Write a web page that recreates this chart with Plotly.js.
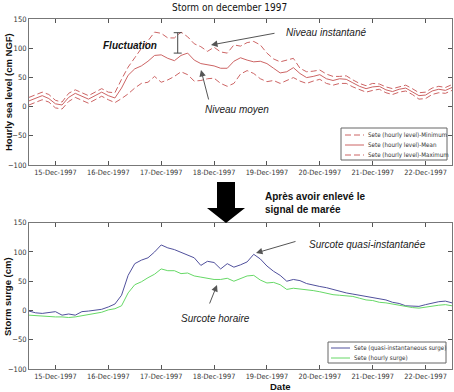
<!DOCTYPE html>
<html><head><meta charset="utf-8">
<script src="https://cdn.plot.ly/plotly-3.0.1.min.js"></script>
<style>html,body{margin:0;padding:0;background:#fff;}#chart{width:454px;height:392px;}</style>
</head><body><div id="chart"></div>
<script>
// ---- data (3-hourly samples from 14-Dec-1997 12:00) ----
const startTime = '1997-12-14T12:00:00Z';
const stepHours = 3;
const levelMin = [3, 8, 12, 8,
  -2, -4, 9, 16, 11, 6, 12, 18,
  12, 7, 14, 22, 32, 40, 42, 52,
  42, 46, 52, 60, 55, 44, 45, 48,
  49, 40, 35, 40, 56, 62, 57, 48,
  43, 45, 40, 45, 50, 44, 40, 44,
  47, 40, 37, 40, 40, 34, 29, 25,
  28, 30, 24, 21, 25, 27, 21, 13,
  14, 21, 24, 23, 28];
const levelMean = [10, 15, 19, 14,
  5, 3, 16, 23, 18, 13, 19, 25,
  19, 15, 32, 54, 65, 70, 78, 88,
  89, 83, 79, 88, 92, 80, 74, 72,
  70, 66, 66, 78, 84, 80, 77, 78,
  74, 66, 58, 60, 67, 57, 50, 52,
  55, 48, 45, 48, 47, 41, 35, 31,
  34, 35, 29, 26, 30, 32, 26, 19,
  20, 27, 30, 28, 33];
const levelMax = [16, 21, 25, 21,
  11, 8, 23, 29, 24, 19, 25, 31,
  25, 24, 47, 68, 84, 100, 113, 128,
  126, 118, 118, 128, 120, 108, 103, 95,
  102, 94, 92, 106, 104, 110, 112, 106,
  92, 82, 77, 80, 83, 66, 60, 61,
  63, 56, 52, 52, 53, 46, 40, 36,
  40, 39, 34, 31, 34, 37, 31, 24,
  25, 32, 35, 33, 38];
const surgeInst = [-1, -4, -5, -3,
  -2, -8, -6, -8, -2, -1, 1, 2,
  6, 11, 26, 60, 80, 86, 90, 100,
  112, 107, 104, 99, 95, 90, 77, 84,
  82, 71, 80, 74, 78, 83, 96, 88,
  76, 67, 60, 50, 53, 51, 46, 43,
  41, 39, 36, 32, 30, 28, 26, 24,
  23, 21, 18, 14, 12, 8, 8, 7,
  10, 13, 15, 16, 13];
const surgeHourly = [-8, -9, -10, -10,
  -11, -11, -12, -11, -9, -7, -5, -3,
  1, 3, 8, 30, 44, 49, 56, 62,
  71, 68, 68, 63, 64, 59, 57, 55,
  53, 53, 55, 50, 55, 59, 60, 52,
  47, 48, 44, 36, 38, 37, 35, 34,
  32, 29, 27, 26, 25, 24, 21, 18,
  17, 14, 13, 11, 9, 6, 5, 4,
  6, 8, 9, 10, 8];
const levelNames = ['Sete (hourly level)-Minimum', 'Sete (hourly level)-Mean', 'Sete (hourly level)-Maximum'];
const surgeNames = ['Sete (quasi-instantaneous surge)', 'Sete (hourly surge)'];
const yTicks = [-100, -50, 0, 50, 100, 150];
const xRange = ['1997-12-14 12:00', '1997-12-22 12:00'];
const fluctTime = '1997-12-17 07:30';
const fluctLow = 92, fluctHigh = 127;

// ---- time grid ----
const t0 = Date.parse(startTime);
function fmt(ms){ return new Date(ms).toISOString().slice(0,16).replace('T',' '); }
const times = levelMean.map((_, i) => fmt(t0 + i * stepHours * 3600000));

// ---- layout helpers ----
const W = 454, H = 392;
const px = x => x / W, py = y => 1 - y / H;
const narrow = 'Liberation Sans Narrow, DejaVu Sans Condensed, Arial Narrow, sans-serif';
const sans = 'Liberation Sans, Arial, sans-serif';
const redC = '#cc6464', blueC = '#50509c', greenC = '#66d866';
const dashed = '6px,3px';

const traces = [
  {x: times, y: levelMin, name: levelNames[0], mode: 'lines', line: {color: redC, width: 1, dash: dashed}, xaxis: 'x', yaxis: 'y'},
  {x: times, y: levelMean, name: levelNames[1], mode: 'lines', line: {color: redC, width: 1}, xaxis: 'x', yaxis: 'y'},
  {x: times, y: levelMax, name: levelNames[2], mode: 'lines', line: {color: redC, width: 1, dash: dashed}, xaxis: 'x', yaxis: 'y'},
  {x: [fluctTime], y: [fluctLow], mode: 'markers', marker: {size: 1, opacity: 0}, showlegend: false,
   error_y: {type: 'data', symmetric: false, array: [fluctHigh - fluctLow], arrayminus: [0], width: 4, thickness: 1, color: '#444'},
   xaxis: 'x', yaxis: 'y', hoverinfo: 'skip'},
  {x: times, y: surgeInst, name: surgeNames[0], mode: 'lines', line: {color: blueC, width: 1}, xaxis: 'x2', yaxis: 'y2'},
  {x: times, y: surgeHourly, name: surgeNames[1], mode: 'lines', line: {color: greenC, width: 1}, xaxis: 'x2', yaxis: 'y2'}
];

function xa(domain, anchor){
  return {domain: domain, anchor: anchor, type: 'date', range: xRange, tickformat: '%d-%b-%Y',
    dtick: 86400000, tick0: '1997-12-15', ticks: 'inside', ticklen: 4, tickcolor: '#555',
    showline: true, linecolor: '#777', linewidth: 1, mirror: 'ticks', showgrid: false, zeroline: false,
    tickfont: {family: narrow, size: 7.3, color: '#333'}};
}
function ya(domain, anchor){
  return {domain: domain, anchor: anchor, range: [-100, 150], tickvals: yTicks, ticks: 'inside', ticklen: 4,
    tickcolor: '#555', showline: true, linecolor: '#777', linewidth: 1, mirror: 'ticks', showgrid: false,
    zeroline: false, tickfont: {family: narrow, size: 7.5, color: '#333'}};
}

const annotations = [];
function txt(t, cx, cy, font, extra){
  annotations.push(Object.assign({text: t, xref: 'paper', yref: 'paper', x: px(cx), y: py(cy),
    xanchor: 'center', yanchor: 'middle', showarrow: false, font: font}, extra || {}));
}
function arrow(hx, hy, tx, ty){
  annotations.push({text: '', xref: 'paper', yref: 'paper', x: px(hx), y: py(hy), ax: tx - hx, ay: ty - hy,
    showarrow: true, arrowhead: 2, arrowsize: 1.3, arrowwidth: 1, arrowcolor: '#555', standoff: 0, startstandoff: 0});
}
const it = {family: sans, size: 10, color: '#222', style: 'italic'};
txt('Storm on december 1997', 229, 7, {family: narrow, size: 10, color: '#111'});
txt('<b><i>Fluctuation</i></b>', 130, 46, {family: sans, size: 10, color: '#111'});
txt('<i>Niveau instantané</i>', 326, 33, it);
txt('<i>Niveau moyen</i>', 237, 110, it);
txt('<i>Surcote quasi-instantanée</i>', 367, 244, it);
txt('<i>Surcote horaire</i>', 215, 318, it);
txt('<b>Après avoir enlevé le<br>signal de marée</b>', 263, 203, {family: sans, size: 10, color: '#111'}, {xanchor: 'left', align: 'left'});
txt('<b>Hourly sea level (cm NGF)</b>', 8, 92, {family: sans, size: 9.5, color: '#111'}, {textangle: -90});
txt('<b>Storm surge (cm)</b>', 7, 297, {family: sans, size: 9.5, color: '#111'}, {textangle: -90});
txt('<b>Date</b>', 280, 386, {family: sans, size: 9.5, color: '#111'});
arrow(211, 45, 276, 33);
arrow(201, 70, 209, 101);
arrow(256, 253, 297, 241);
arrow(217, 285, 209, 305);

const shapes = [];
// big black arrow
const arrowPts = [[217,182],[235,182],[235,208],[245,208],[226,223],[207,208],[217,208]];
shapes.push({type: 'path', xref: 'paper', yref: 'paper', fillcolor: '#000', line: {width: 0},
  path: 'M' + arrowPts.map(p => px(p[0]).toFixed(5) + ',' + py(p[1]).toFixed(5)).join(' L') + ' Z'});

// manual legends
function legendBox(x0, y0, x1, y1){
  shapes.push({type: 'rect', xref: 'paper', yref: 'paper', x0: px(x0), x1: px(x1), y0: py(y1), y1: py(y0),
    fillcolor: '#fff', line: {color: '#666', width: 1}});
}
function legendItem(name, color, dash, lx0, lx1, ly){
  shapes.push({type: 'line', xref: 'paper', yref: 'paper', x0: px(lx0), x1: px(lx1), y0: py(ly), y1: py(ly),
    line: {color: color, width: 1, dash: dash}});
  annotations.push({text: name, xref: 'paper', yref: 'paper', x: px(lx1 + 2), y: py(ly), xanchor: 'left',
    yanchor: 'middle', showarrow: false, font: {family: narrow, size: 6.2, color: '#333'}});
}
legendBox(341, 128, 447, 160);
legendItem(levelNames[0], redC, dashed, 345, 364, 135);
legendItem(levelNames[1], redC, 'solid', 345, 364, 145);
legendItem(levelNames[2], redC, dashed, 345, 364, 155);
legendBox(328, 342, 446, 363);
legendItem(surgeNames[0], blueC, 'solid', 331, 350, 348);
legendItem(surgeNames[1], greenC, 'solid', 331, 350, 358);

const layout = {
  width: W, height: H, margin: {l: 0, r: 0, t: 0, b: 0}, paper_bgcolor: '#fff', plot_bgcolor: '#fff',
  showlegend: false,
  xaxis: xa([px(29), px(452)], 'y'),
  yaxis: ya([py(165), py(19.3)], 'x'),
  xaxis2: xa([px(29), px(452)], 'y2'),
  yaxis2: ya([py(369), py(222.7)], 'x2'),
  annotations: annotations, shapes: shapes
};
Plotly.newPlot('chart', traces, layout, {displayModeBar: false, staticPlot: true});
</script></body></html>
